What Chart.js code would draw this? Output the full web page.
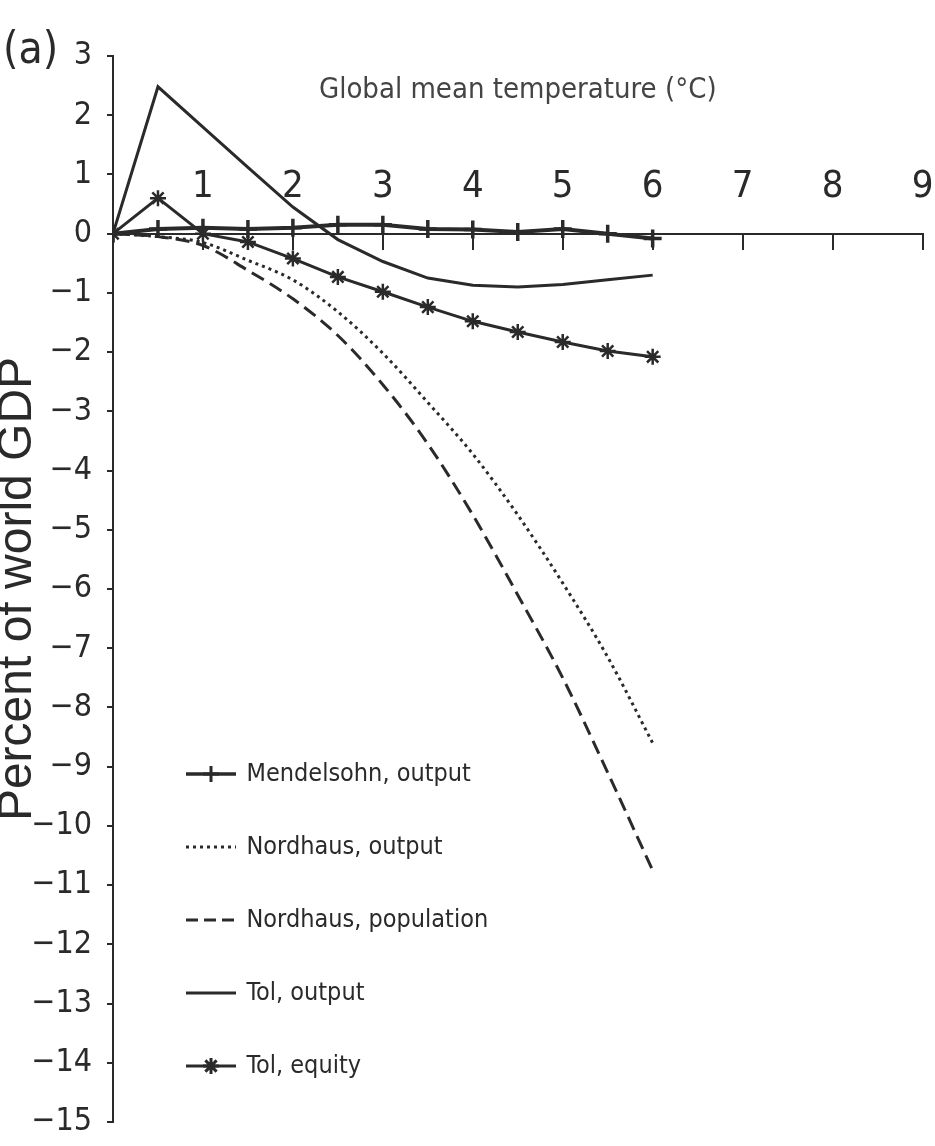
<!DOCTYPE html>
<html>
<head>
<meta charset="utf-8">
<title>Percent of world GDP by global mean temperature</title>
<script src="https://cdn.jsdelivr.net/npm/chart.js@4.4.1/dist/chart.umd.min.js"></script>
<style>
  html, body { margin: 0; background: #fff; }
  #wrap { width: 935px; height: 1146px; }
</style>
</head>
<body>
<div id="wrap"><canvas id="gdp-chart"></canvas></div>
<script>
// Warming steps (deg C) shared by every estimate
const temps = [0, 0.5, 1, 1.5, 2, 2.5, 3, 3.5, 4, 4.5, 5, 5.5, 6];

// Impact in percent of world GDP
const mendelsohnOutput   = [0, 0.08, 0.1, 0.08, 0.1, 0.15, 0.15, 0.08, 0.07, 0.03, 0.08, 0, -0.08];
const nordhausOutput     = [0, -0.05, -0.15, -0.45, -0.78, -1.32, -2.02, -2.85, -3.72, -4.75, -5.9, -7.15, -8.6];
const nordhausPopulation = [0, -0.05, -0.2, -0.62, -1.1, -1.72, -2.55, -3.55, -4.75, -6.1, -7.5, -9.1, -10.75];
const tolOutput          = [0, 2.48, 1.8, 1.12, 0.45, -0.1, -0.47, -0.75, -0.87, -0.9, -0.86, -0.78, -0.7];
const tolEquity          = [0, 0.6, 0, -0.14, -0.42, -0.73, -0.98, -1.24, -1.48, -1.66, -1.83, -1.98, -2.08];

const seriesNames = ['Mendelsohn, output', 'Nordhaus, output', 'Nordhaus, population', 'Tol, output', 'Tol, equity'];

// axis ranges
const xRange = [0, 9];
const yRange = [-15, 3];

const INK = '#2a2a2a';
const NARROW = "'Liberation Sans Narrow', 'DejaVu Sans Condensed', 'Liberation Sans', sans-serif";

const pts = arr => temps.map((t, i) => ({ x: t, y: arr[i] }));
const minus = v => (v < 0 ? '\u2212' + Math.abs(v) : String(v));

// little line + marker pictures for the legend rows
function swatch(dash, width, marker) {
  const c = document.createElement('canvas');
  c.width = 50; c.height = 24;
  const g = c.getContext('2d');
  g.strokeStyle = INK; g.fillStyle = INK; g.lineWidth = width;
  g.setLineDash(dash);
  g.beginPath(); g.moveTo(0, 12); g.lineTo(50, 12); g.stroke();
  g.setLineDash([]);
  if (marker && Chart.helpers && Chart.helpers.drawPoint) {
    g.lineWidth = 3;
    Chart.helpers.drawPoint(g, { pointStyle: marker, radius: 8, borderWidth: 3 }, 25, 12);
  }
  return c;
}

const swatches = [
  swatch([], 3.5, 'cross'),
  swatch([3, 4], 3, null),
  swatch([12, 6], 3, null),
  swatch([], 3, null),
  swatch([], 3, 'star'),
];

// legend sits inside the plot, lower left
const legendSpot = {
  id: 'legendSpot',
  afterLayout(chart) {
    const lg = chart.legend, area = chart.chartArea;
    if (!lg) return;
    const w = lg.width;
    lg.left = area.left + 27;
    lg.top = area.top + 654;
    lg.right = lg.left + w;
    lg.bottom = lg.top + 420;
  }
};

new Chart(document.getElementById('gdp-chart'), {
  type: 'line',
  data: {
    datasets: [
      { label: seriesNames[0], data: pts(mendelsohnOutput), borderColor: INK, backgroundColor: INK, borderWidth: 4,
        pointStyle: 'cross', pointRadius: 9, pointBorderWidth: 3.5, pointBorderColor: INK, tension: 0 },
      { label: seriesNames[1], data: pts(nordhausOutput), borderColor: INK, borderWidth: 3, borderDash: [3, 4],
        pointRadius: 0, cubicInterpolationMode: 'monotone' },
      { label: seriesNames[2], data: pts(nordhausPopulation), borderColor: INK, borderWidth: 3, borderDash: [14, 7],
        pointRadius: 0, cubicInterpolationMode: 'monotone' },
      { label: seriesNames[3], data: pts(tolOutput), borderColor: INK, borderWidth: 3, pointRadius: 0, tension: 0 },
      { label: seriesNames[4], data: pts(tolEquity), borderColor: INK, backgroundColor: INK, borderWidth: 3,
        pointStyle: 'star', pointRadius: 8, pointBorderWidth: 2.5, pointBorderColor: INK, tension: 0 },
    ]
  },
  options: {
    responsive: true,
    maintainAspectRatio: false,
    animation: false,
    layout: { padding: { top: 0, left: 3, right: 12, bottom: 24 } },
    plugins: {
      tooltip: { enabled: false },
      title: {
        display: true, text: '(a)', align: 'start', color: INK,
        font: { family: NARROW, size: 44, weight: 'normal', lineHeight: 1 },
        padding: { top: 30, bottom: -18 }
      },
      legend: {
        position: 'chartArea',
        labels: {
          usePointStyle: true, pointStyleWidth: 46, padding: 48, color: INK,
          font: { family: NARROW, size: 25 },
          generateLabels: chart => Chart.defaults.plugins.legend.labels.generateLabels(chart)
            .map((item, i) => ({ ...item, pointStyle: swatches[i], lineWidth: 0 }))
        }
      }
    },
    scales: {
      x: {
        type: 'linear', min: xRange[0], max: xRange[1],
        position: { y: 0 },
        border: { display: true, color: INK, width: 2 },
        grid: { drawOnChartArea: false, drawTicks: true, tickLength: 15, color: INK, lineWidth: 2 },
        ticks: { stepSize: 1, padding: -84, color: INK, font: { family: NARROW, size: 38 },
                 callback: v => (v === 0 ? '' : String(v)) },
        title: { display: true, text: 'Global mean temperature (\u00b0C)', color: '#444',
                 font: { family: NARROW, size: 29 }, padding: { top: -53, bottom: 0 } }
      },
      y: {
        min: yRange[0], max: yRange[1],
        afterFit: scale => { scale.width = 110; scale.paddingBottom = 20; },
        border: { display: true, color: INK, width: 2 },
        grid: { drawOnChartArea: false, drawTicks: true, tickLength: 6, color: INK, lineWidth: 2 },
        ticks: { stepSize: 1, padding: 15, color: INK, font: { family: NARROW, size: 32 }, callback: minus },
        title: { display: true, text: 'Percent of world GDP', color: INK,
                 font: { family: "'Liberation Sans', Arial, sans-serif", size: 48 }, padding: { top: -14, bottom: 0 } }
      }
    }
  },
  plugins: [legendSpot]
});
</script>
</body>
</html>
